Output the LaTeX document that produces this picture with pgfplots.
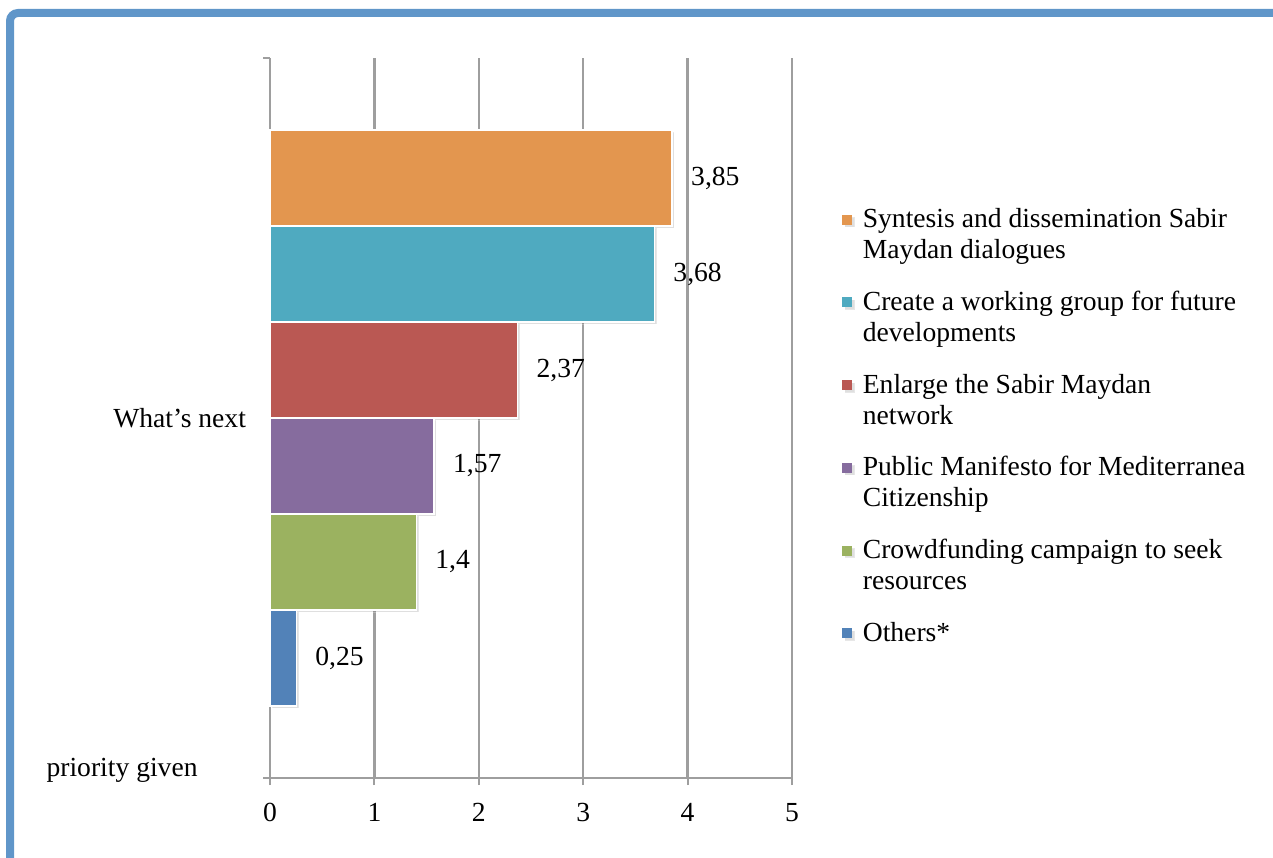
\documentclass[border=0pt]{standalone}
\usepackage{fontspec}
\setmainfont{Liberation Serif}
\usepackage{pgfplots}
\pgfplotsset{compat=1.18}
\usetikzlibrary{shadows}
\definecolor{frameblue}{HTML}{6096C9}
\definecolor{gridgray}{HTML}{9E9E9E}
\definecolor{cOrange}{HTML}{E3964F}
\definecolor{cTeal}{HTML}{4FAAC0}
\definecolor{cRed}{HTML}{BA5853}
\definecolor{cPurple}{HTML}{866C9E}
\definecolor{cGreen}{HTML}{9BB260}
\definecolor{cBlue}{HTML}{5282B8}
\tikzset{barshadow/.style={drop shadow={opacity=0.25, shadow xshift=1.2pt, shadow yshift=-1.2pt}}}
\newcommand{\two}[2]{\begin{tabular}[t]{@{}l@{}}#1\\#2\end{tabular}}
\newcommand{\one}[1]{\begin{tabular}[t]{@{}l@{}}#1\end{tabular}}
\begin{document}
\begin{tikzpicture}[font=\fontsize{13.8pt}{15.5pt}\selectfont]
\useasboundingbox (0,0) rectangle (636.5pt,428.5pt);
\draw[frameblue, line width=4pt, rounded corners=4pt] (5pt,-20pt) -- (5pt,422pt) -- (660pt,422pt);
\begin{axis}[
    at={(135pt,39.5pt)}, anchor=south west,
    scale only axis, width=261pt, height=360pt,
    xmin=0, xmax=5, ymin=0, ymax=7.5,
    xtick={0,1,2,3,4,5},
    ytick={0,7.5}, yticklabels={},
    extra y ticks={3.75}, extra y tick labels={What's next},
    extra y tick style={major tick length=0pt, yticklabel style={xshift=-8.5pt}},
    axis lines*=left,
    axis line style={gridgray, line width=1pt},
    xmajorgrids, grid style={gridgray, line width=1.2pt},
    tick style={gridgray, line width=1pt},
    tick align=outside, major tick length=3.5pt,
    xticklabel style={yshift=-5.5pt},
    /pgf/number format/.cd, use comma, fixed, precision=2, assume math mode=true, /pgfplots/.cd,
    point meta=x,
    nodes near coords,
    every node near coord/.append style={black, anchor=west, xshift=6pt},
    legend style={at={(1.084,0.806)}, anchor=north west, draw=none, fill=none,
        cells={anchor=base west}, row sep=25pt},
    legend image code/.code={\begin{scope}[barshadow/.style={}]
        \fill[#1, draw=none] (0pt,1.5pt) rectangle (5pt,6.5pt);
        \path (8pt,4pt);\end{scope}},
    clip=false,
]
\addplot[xbar, bar width=1, bar shift=0, fill=cOrange, draw=white, line width=0.6pt, barshadow]
    coordinates {(3.85,6.25)};
\addlegendentry{\two{Syntesis and dissemination Sabir}{Maydan dialogues}}
\addplot[xbar, bar width=1, bar shift=0, fill=cTeal, draw=white, line width=0.6pt, barshadow]
    coordinates {(3.68,5.25)};
\addlegendentry{\two{Create a working group for future}{developments}}
\addplot[xbar, bar width=1, bar shift=0, fill=cRed, draw=white, line width=0.6pt, barshadow]
    coordinates {(2.37,4.25)};
\addlegendentry{\two{Enlarge the Sabir Maydan}{network}}
\addplot[xbar, bar width=1, bar shift=0, fill=cPurple, draw=white, line width=0.6pt, barshadow]
    coordinates {(1.57,3.25)};
\addlegendentry{\two{Public Manifesto for Mediterranea}{Citizenship}}
\addplot[xbar, bar width=1, bar shift=0, fill=cGreen, draw=white, line width=0.6pt, barshadow]
    coordinates {(1.4,2.25)};
\addlegendentry{\two{Crowdfunding campaign to seek}{resources}}
\addplot[xbar, bar width=1, bar shift=0, fill=cBlue, draw=white, line width=0.6pt, barshadow]
    coordinates {(0.25,1.25)};
\addlegendentry{\one{Others*}}
\node[anchor=east, inner sep=0pt] at (axis cs:-0.69,0.083) {priority given};
\end{axis}
\end{tikzpicture}
\end{document}
